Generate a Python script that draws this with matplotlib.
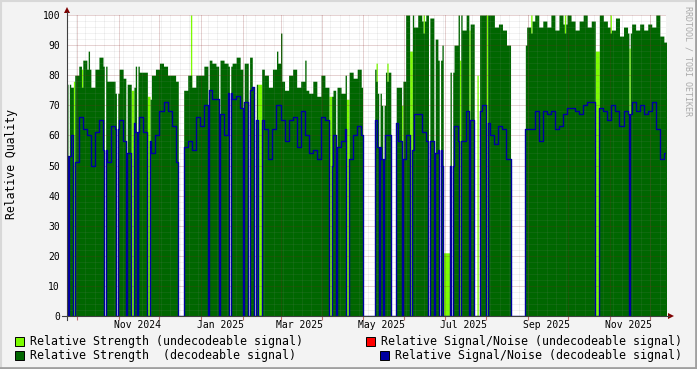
import numpy as np
import pandas as pd
import matplotlib
matplotlib.use('Agg')
import matplotlib.pyplot as plt
import matplotlib.dates as mdates
from matplotlib.ticker import NullFormatter
from matplotlib.patches import Rectangle, Polygon
from matplotlib.lines import Line2D

plt.rcParams['font.family'] = 'DejaVu Sans Mono'

# samples every 3 days starting at start
start = '2024-09-23'
step = 3

strength = [77, 76, 80, 83, 85, 82, 76, 82, 86, 83,
            78, 78, 74, 82, 79, 77, 76, 83, 81, 81,
            72, 80, 82, 84, 83, 80, 80, 78, 78, 75,
            80, 76, 80, 80, 83, 85, 84, 83, 85, 84,
            83, 84, 86, 82, 84, 86, 76, 77, 82, 80,
            76, 82, 84, 78, 75, 80, 82, 76, 78, 75,
            74, 78, 73, 80, 76, 73, 75, 76, 74, 80,
            81, 79, 82, 76, 76, 82, 82, 74, 70, 81,
            81, 76, 76, 78, 100, 100, 96, 100, 98, 100,
            99, 92, 85, 90, 90, 81, 90, 100, 95, 100,
            97, 86, 100, 100, 100, 100, 96, 97, 95, 90,
            90, 90, 90, 90, 96, 98, 100, 96, 98, 96,
            100, 95, 100, 97, 100, 98, 95, 98, 100, 96,
            98, 80, 100, 98, 96, 95, 99, 93, 96, 94,
            97, 95, 97, 95, 97, 96, 100, 93, 91]

snr_vals = [53, 60, 51, 66, 62, 60, 50, 61, 65, 55,
            51, 63, 62, 65, 58, 54, 64, 61, 66, 61,
            58, 54, 60, 68, 71, 68, 63, 51, 51, 56,
            58, 55, 66, 63, 70, 75, 72, 72, 67, 60,
            74, 72, 73, 69, 71, 75, 76, 65, 65, 62,
            52, 62, 70, 65, 58, 65, 66, 56, 68, 60,
            54, 55, 52, 66, 65, 50, 60, 56, 58, 62,
            52, 60, 63, 60, 60, 65, 65, 56, 52, 60,
            60, 64, 58, 52, 60, 55, 67, 67, 61, 58,
            58, 54, 55, 50, 50, 50, 63, 58, 58, 68,
            65, 53, 68, 70, 64, 60, 57, 63, 62, 52,
            62, 62, 62, 62, 62, 62, 68, 58, 68, 67,
            68, 62, 63, 67, 69, 69, 68, 67, 70, 71,
            71, 66, 69, 68, 65, 70, 68, 63, 68, 67,
            71, 68, 70, 67, 68, 71, 62, 52, 54]

# single day strength peaks
peak_dates = ['2024-10-09', '2025-03-01', '2025-03-19', '2025-02-26']
peak_level = [88, 94, 85, 88]

# no data at all
gap_start = ['2024-12-15', '2025-02-09', '2025-05-01', '2025-05-22', '2025-07-23', '2025-08-19']
gap_days = [4, 2, 9, 4, 2, 11]

# decodeable signal lost for a day
drop_dates = ['2024-09-24', '2024-10-21', '2024-10-30', '2024-11-06', '2024-11-14',
              '2025-01-06', '2025-01-14', '2025-01-22', '2025-02-01', '2025-02-05',
              '2025-04-11', '2025-05-13', '2025-05-16', '2025-06-19', '2025-06-23',
              '2025-06-27', '2025-07-06', '2025-07-26']

# only undecodeable signal
weak_start = ['2024-09-28', '2024-11-10', '2024-11-22', '2025-02-12', '2025-04-06',
              '2025-04-19', '2025-05-30', '2025-06-05', '2025-06-30', '2025-07-12',
              '2025-07-19', '2025-07-25', '2025-08-01', '2025-10-21', '2025-11-15']
weak_days = [1, 2, 2, 3, 2, 2, 1, 2, 5, 1, 1, 1, 1, 3, 1]
weak_level = [78, 75, 73, 77, 73, 72, 70, 88, 21, 85, 95, 80, 100, 88, 89]

# undecodeable peaks above the decodeable strength
spike_dates = ['2024-12-24', '2024-10-04', '2025-05-11', '2025-05-19', '2025-06-15',
               '2025-09-03', '2025-09-28', '2025-11-01']
spike_level = [100, 82, 84, 84, 100, 100, 100, 100]

n = len(strength) * step
days = pd.date_range(start, periods=n + 1, freq='D')
x = mdates.date2num(days)
dec = np.repeat(np.array(strength, float), step)
snr = np.repeat(np.array(snr_vals, float), step)
und = np.zeros(n)

def idx(d):
    return (pd.Timestamp(d) - pd.Timestamp(start)).days

for d, lv in zip(peak_dates, peak_level):
    dec[idx(d)] = lv
for d, lv in zip(spike_dates, spike_level):
    i = idx(d)
    und[i] = lv
    dec[i] = min(dec[i], lv - 6)
for d, k in zip(gap_start, gap_days):
    i = idx(d)
    dec[i:i+k] = 0
    snr[i:i+k] = 0
for d in drop_dates:
    i = idx(d)
    dec[i] = 0
    snr[i] = 0
for d, k, lv in zip(weak_start, weak_days, weak_level):
    i = idx(d)
    dec[i:i+k] = 0
    snr[i:i+k] = 0
    und[i:i+k] = lv

W, H = 697, 369
def fx(px):
    return px / W
def fy(py):
    return 1 - py / H

fig = plt.figure(figsize=(W / 100, H / 100), dpi=100, facecolor='#f3f3f3')
ax = fig.add_axes([fx(67), fy(316), (666 - 67) / W, (316 - 15) / H])
ax.set_facecolor('white')

light = '#7cfc00'
dark = '#006600'
blue = '#0000a0'

ax.fill_between(x, np.append(und, und[-1]), step='post', color=light, lw=0, zorder=1,
                antialiased=False)
ax.fill_between(x, np.append(dec, dec[-1]), step='post', color=dark, lw=0, zorder=2,
                antialiased=False)
ax.step(x, np.append(snr, snr[-1]), where='post', color=blue, lw=1.0, zorder=4)

ax.set_xlim(mdates.date2num(pd.Timestamp('2024-09-23 06:00')),
            mdates.date2num(pd.Timestamp('2025-12-12 14:00')))
ax.set_ylim(0, 100)

# grid
mgrid = (0.51, 0.12, 0.12, 0.4)
grid = (0.55, 0.55, 0.55, 0.22)
dot = (0, (1, 1))
for v in range(2, 101, 2):
    if v % 10:
        ax.axhline(v, color=grid, lw=0.72, ls=dot, zorder=3)
for wk in pd.date_range('2024-09-23', '2025-12-13', freq='W-MON'):
    ax.axvline(mdates.date2num(wk), color=grid, lw=0.72, ls=dot, zorder=3)
for v in range(10, 101, 10):
    ax.axhline(v, color=mgrid, lw=0.72, ls=dot, zorder=3)
for m in pd.date_range('2024-10-01', '2025-12-01', freq='MS'):
    ax.axvline(mdates.date2num(m), color=mgrid, lw=0.72, ls=dot, zorder=3)

for s in ax.spines.values():
    s.set_visible(False)

ax.xaxis.set_major_locator(mdates.MonthLocator())
ax.xaxis.set_major_formatter(NullFormatter())
ax.xaxis.set_minor_locator(mdates.MonthLocator(bymonth=[1, 3, 5, 7, 9, 11], bymonthday=15))
ax.xaxis.set_minor_formatter(mdates.DateFormatter('%b %Y'))
ax.tick_params(axis='x', which='major', length=3, width=0.8, color='#c07070', direction='out')
ax.tick_params(axis='x', which='minor', length=0, pad=3, labelsize=7)
ax.set_yticks(range(0, 101, 10))
ax.tick_params(axis='y', which='both', length=0, pad=5, labelsize=7)

# axes and arrows
axc = '#404040'
fig.add_artist(Line2D([fx(67), fx(67)], [fy(320), fy(12)], color=axc, lw=0.8))
fig.add_artist(Line2D([fx(62), fx(669)], [fy(316), fy(316)], color=axc, lw=0.8))
fig.add_artist(Polygon([[fx(64), fy(13)], [fx(70), fy(13)], [fx(67), fy(7)]], closed=True,
                       color='#7f0000', lw=0))
fig.add_artist(Polygon([[fx(668), fy(313)], [fx(668), fy(319)], [fx(674), fy(316)]], closed=True,
                       color='#7f0000', lw=0))

fig.text(fx(12), fy(164), 'Relative Quality', rotation=90, ha='center', va='center', fontsize=8.3)
fig.text(fx(688), fy(6), 'RRDTOOL / TOBI OETIKER', rotation=270, ha='center', va='top',
         fontsize=6, color='#aaaaaa')

# legend
entries = [(15, 341, light, 'Relative Strength (undecodeable signal)'),
           (15, 355, dark, 'Relative Strength  (decodeable signal)'),
           (366, 341, '#ff0000', 'Relative Signal/Noise (undecodeable signal)'),
           (380, 355, blue, 'Relative Signal/Noise (decodeable signal)')]
for px, py, col, lab in entries:
    fig.add_artist(Rectangle((fx(px), fy(py + 5)), 9 / W, 9 / H, facecolor=col,
                             edgecolor='black', lw=0.7))
    fig.text(fx(px + 15), fy(py + 0.5), lab, ha='left', va='center', fontsize=8.4)

# frame shading
fig.add_artist(Line2D([0, 1], [fy(0.5), fy(0.5)], color='#d8d8d8', lw=1.5))
fig.add_artist(Line2D([fx(0.5), fx(0.5)], [0, 1], color='#d8d8d8', lw=1.5))
fig.add_artist(Line2D([0, 1], [fy(368), fy(368)], color='#a0a0a0', lw=2))
fig.add_artist(Line2D([fx(696), fx(696)], [0, 1], color='#a0a0a0', lw=2))

fig.savefig('out.png', dpi=100, facecolor=fig.get_facecolor())
